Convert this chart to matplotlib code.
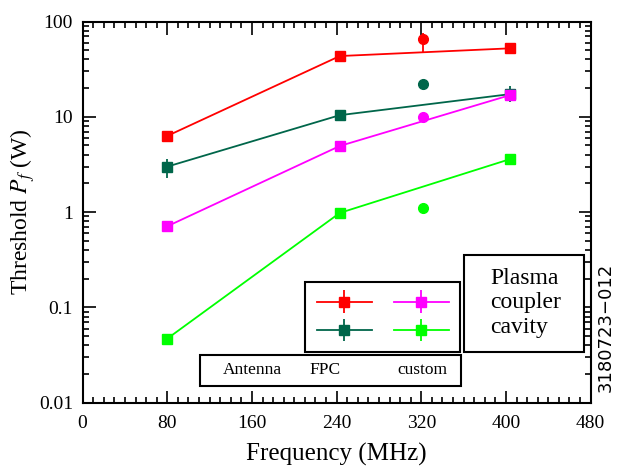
import matplotlib
matplotlib.use("Agg")
import matplotlib.pyplot as plt
from matplotlib.patches import Rectangle
from matplotlib.ticker import FixedLocator, MultipleLocator, LogLocator, NullFormatter
from matplotlib.legend_handler import HandlerErrorbar
from matplotlib.container import ErrorbarContainer

plt.rcParams["font.family"] = ["Liberation Serif", "DejaVu Serif"]
plt.rcParams["mathtext.fontset"] = "stix"

# threshold power vs frequency for the three drive schemes
freq = [80, 243, 404]
red_sq = [6.3, 43.4, 52.3]
dkgreen_sq = [3.0, 10.4, 17.3]
dkgreen_lo = [0.7, 0.8, 2.9]
dkgreen_hi = [0.6, 0.8, 3.7]
magenta_sq = [0.71, 4.94, 16.9]
ltgreen_sq = [0.047, 0.98, 3.6]
no_err = [0.0, 0.0, 0.0]

# single measurements at 322 MHz
freq_pt = [322]
red_pt = [65.0]
red_pt_lo = [18.0]
red_pt_hi = [10.0]
dkgreen_pt = [22.2]
magenta_pt = [10.0]
ltgreen_pt = [1.1]

RED = "#ff0000"
DKGREEN = "#00664a"
MAGENTA = "#ff00ff"
LTGREEN = "#00ff00"

fig = plt.figure(figsize=(6.17, 4.70), dpi=100)
ax = fig.add_axes([82.6 / 617, 1 - 402.7 / 470, 508 / 617, 381.2 / 470])

ms = 7
eb = dict(marker="s", ms=ms, lw=1.3, elinewidth=1.3, capsize=0)
h_red = ax.errorbar(freq, red_sq, yerr=no_err, color=RED, zorder=3, **eb)
h_dkg = ax.errorbar(freq, dkgreen_sq, yerr=[dkgreen_lo, dkgreen_hi], color=DKGREEN, zorder=3, **eb)
h_mag = ax.errorbar(freq, magenta_sq, yerr=no_err, color=MAGENTA, zorder=4, **eb)
h_ltg = ax.errorbar(freq, ltgreen_sq, yerr=no_err, color=LTGREEN, zorder=3, **eb)

ax.errorbar(freq_pt, red_pt, yerr=[red_pt_lo, red_pt_hi], color=RED, marker="o",
            ms=ms, ls="none", elinewidth=1.3, capsize=0, zorder=3)
ax.plot(freq_pt, dkgreen_pt, "o", color=DKGREEN, ms=ms, zorder=3)
ax.plot(freq_pt, magenta_pt, "o", color=MAGENTA, ms=ms, zorder=3)
ax.plot(freq_pt, ltgreen_pt, "o", color=LTGREEN, ms=ms, zorder=3)

ax.set_yscale("log")
ax.set_xlim(0, 480)
ax.set_ylim(0.01, 100)
ax.xaxis.set_major_locator(MultipleLocator(80))
ax.xaxis.set_minor_locator(MultipleLocator(10))
ax.yaxis.set_major_locator(FixedLocator([0.01, 0.1, 1, 10, 100]))
ax.yaxis.set_minor_locator(LogLocator(base=10, subs=range(2, 10), numticks=20))
ax.yaxis.set_minor_formatter(NullFormatter())
ax.set_yticklabels(["0.01", "0.1", "1", "10", "100"])
ax.tick_params(which="both", direction="in", top=True, right=True, labelsize=14, width=1.2)
ax.tick_params(which="major", length=9)
ax.tick_params(which="minor", length=4)
ax.tick_params(axis="x", pad=9)
ax.tick_params(axis="y", pad=7)
for s in ax.spines.values():
    s.set_linewidth(1.5)

ax.set_xlabel("Frequency (MHz)", fontsize=18, labelpad=8)
ax.set_ylabel(r"Threshold $P_f$ (W)", fontsize=17, labelpad=1)

# boxed key: symbols, column names, row names
box_kw = dict(transform=ax.transAxes, clip_on=False, facecolor="white",
              edgecolor="black", lw=1.5, zorder=10)
ax.add_patch(Rectangle((0.4378, 0.1338), 0.3059, 0.182, **box_kw))
ax.add_patch(Rectangle((0.2311, 0.0446), 0.5132, 0.0805, **box_kw))
ax.add_patch(Rectangle((0.750, 0.1338), 0.237, 0.2537, **box_kw))

leg = ax.legend([h_red, h_dkg, h_mag, h_ltg], ["", "", "", ""], ncol=2,
                loc="center", bbox_to_anchor=(0.5907, 0.2248), frameon=False,
                fontsize=10, handlelength=3.96, handletextpad=0, columnspacing=1.58,
                labelspacing=1.1, borderpad=0,
                handler_map={ErrorbarContainer: HandlerErrorbar(yerr_size=0.8)})
leg.set_zorder(11)

for name, px in (("Antenna", 252), ("FPC", 325), ("custom", 422)):
    ax.text((px - 82.6) / 508, 0.085, name, transform=ax.transAxes, fontsize=12.5,
            ha="center", va="center", zorder=11)

ax.text((490 - 82.6) / 508, 0.262, "Plasma\ncoupler\ncavity", transform=ax.transAxes,
        fontsize=17, ha="left", va="center", linespacing=1.2, zorder=11)

fig.text(606 / 617, 1 - 327 / 470, "3180723\u2212012", rotation=90, fontsize=13,
         family="DejaVu Sans", ha="center", va="center")

fig.savefig("out.png", dpi=100)
